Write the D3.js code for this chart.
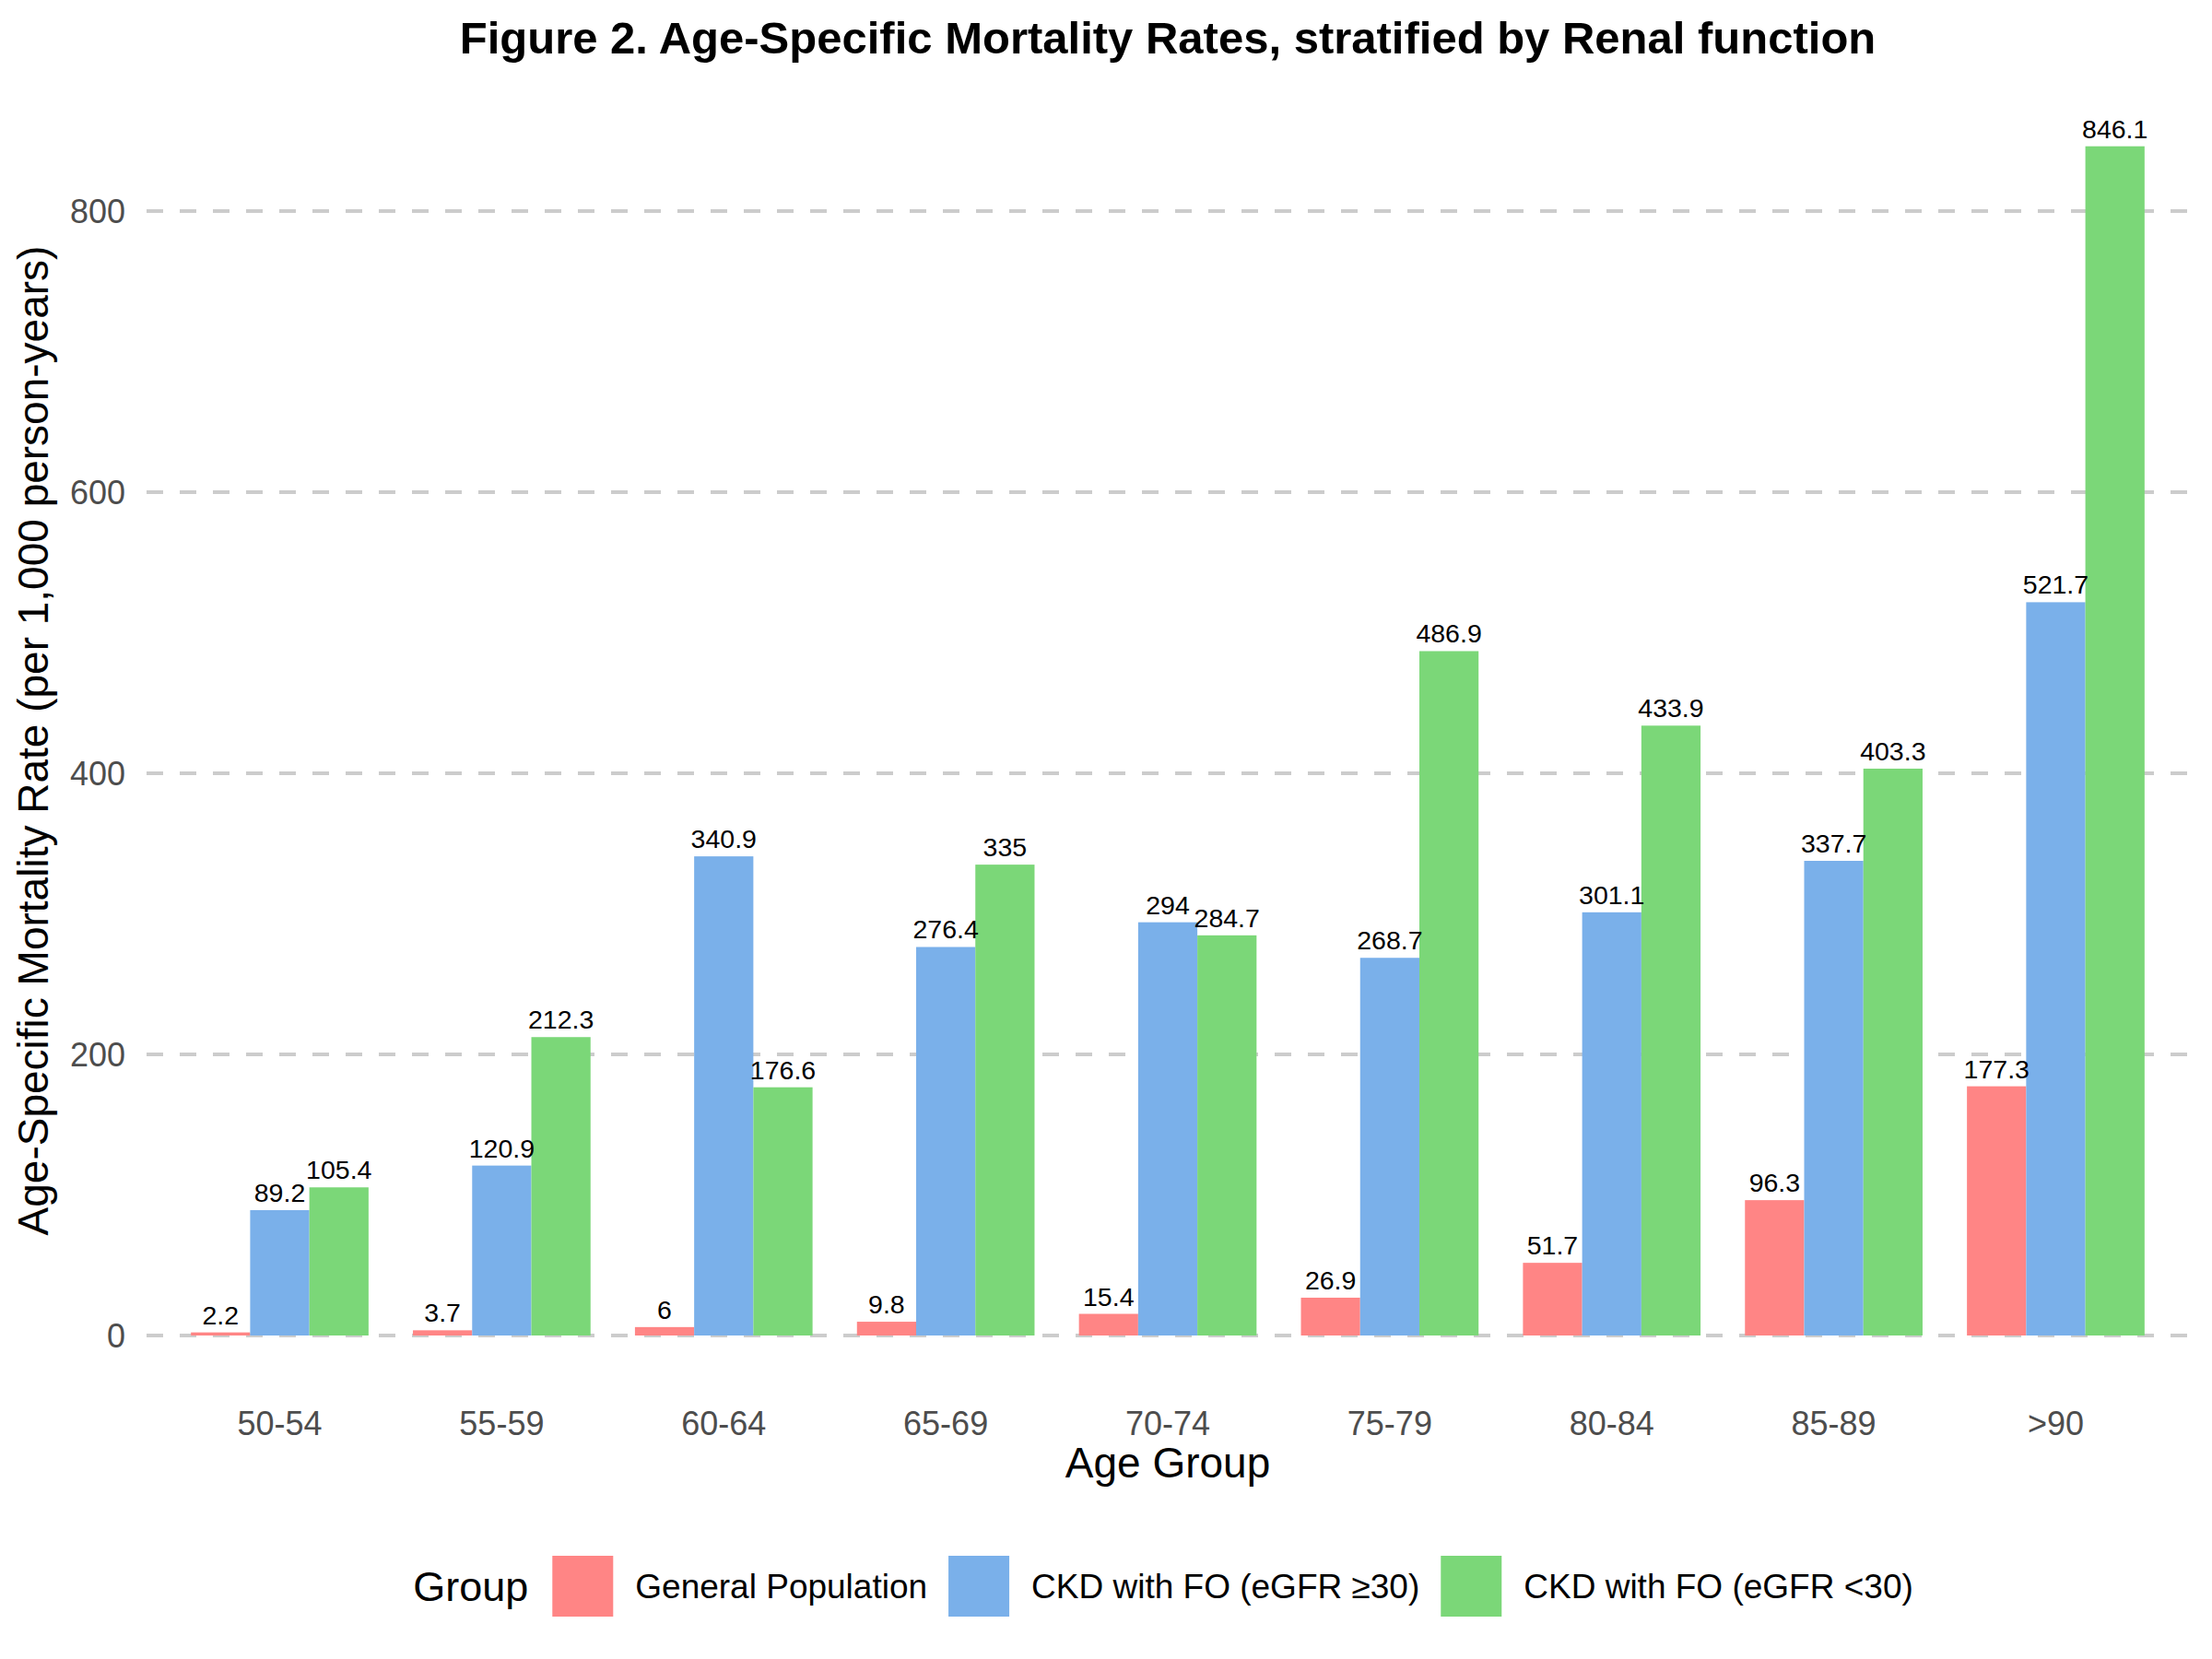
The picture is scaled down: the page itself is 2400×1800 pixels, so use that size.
<!DOCTYPE html>
<html>
<head>
<meta charset="utf-8">
<script src="https://cdn.jsdelivr.net/npm/d3@7.9.0/dist/d3.min.js"></script>
<style>
  html, body { margin: 0; padding: 0; background: #fff; }
  svg { display: block; font-family: 'Liberation Sans', Arial, Helvetica, sans-serif; }
</style>
</head>
<body>
<svg id="chart" width="2400" height="1800"></svg>
<script>
const ageGroups = ['50-54', '55-59', '60-64', '65-69', '70-74', '75-79', '80-84', '85-89', '>90'];
const groups = ['General Population', 'CKD with FO (eGFR \u226530)', 'CKD with FO (eGFR <30)'];
const generalPopulation = [2.2, 3.7, 6, 9.8, 15.4, 26.9, 51.7, 96.3, 177.3];
const ckdHighEgfr = [89.2, 120.9, 340.9, 276.4, 294, 268.7, 301.1, 337.7, 521.7];
const ckdLowEgfr = [105.4, 212.3, 176.6, 335, 284.7, 486.9, 433.9, 403.3, 846.1];
const yTicks = [0, 200, 400, 600, 800];
const groupColors = ['#FF8585', '#7AB0EA', '#7BD778'];

const seriesValues = [generalPopulation, ckdHighEgfr, ckdLowEgfr];
const rows = ageGroups.flatMap((age, i) =>
  groups.map((group, j) => ({ age, group, value: seriesValues[j][i] })),
);

const panel = { left: 159, right: 2375, top: 94, bottom: 1513 };
const svg = d3.select('#chart');

const x = d3.scaleBand()
  .domain(ageGroups)
  .range([panel.left, panel.right])
  .paddingInner(0.2)
  .paddingOuter(0.2);

const xInner = d3.scaleBand()
  .domain(groups)
  .range([0, x.bandwidth()]);

const y = d3.scaleLinear().domain([0, 800]).range([1449, 229]);

const color = d3.scaleOrdinal().domain(groups).range(groupColors);

// gridlines
svg.append('g')
  .selectAll('line')
  .data(yTicks)
  .join('line')
  .attr('x1', panel.left)
  .attr('x2', panel.right)
  .attr('y1', (d) => y(d))
  .attr('y2', (d) => y(d))
  .attr('stroke', '#CCCCCC')
  .attr('stroke-width', 4)
  .attr('stroke-dasharray', '18 18');

// bars
svg.append('g')
  .selectAll('rect')
  .data(rows)
  .join('rect')
  .attr('x', (d) => x(d.age) + xInner(d.group))
  .attr('width', xInner.bandwidth())
  .attr('y', (d) => y(d.value))
  .attr('height', (d) => y(0) - y(d.value))
  .attr('fill', (d) => color(d.group));

// value labels
svg.append('g')
  .selectAll('text')
  .data(rows)
  .join('text')
  .attr('x', (d) => x(d.age) + xInner(d.group) + xInner.bandwidth() / 2)
  .attr('y', (d) => y(d.value) - 9)
  .attr('text-anchor', 'middle')
  .attr('font-size', 28.5)
  .attr('fill', '#000')
  .text((d) => d.value);

// y axis tick labels
svg.append('g')
  .selectAll('text')
  .data(yTicks)
  .join('text')
  .attr('x', 136)
  .attr('y', (d) => y(d))
  .attr('dy', '0.35em')
  .attr('text-anchor', 'end')
  .attr('font-size', 36)
  .attr('fill', '#4D4D4D')
  .text((d) => d);

// x axis tick labels
svg.append('g')
  .selectAll('text')
  .data(ageGroups)
  .join('text')
  .attr('x', (d) => x(d) + x.bandwidth() / 2)
  .attr('y', 1557)
  .attr('text-anchor', 'middle')
  .attr('font-size', 36)
  .attr('fill', '#4D4D4D')
  .text((d) => d);

const panelCenterX = (panel.left + panel.right) / 2;
const panelCenterY = (panel.top + panel.bottom) / 2;

// axis titles
svg.append('text')
  .attr('x', panelCenterX)
  .attr('y', 1603)
  .attr('text-anchor', 'middle')
  .attr('font-size', 46)
  .attr('fill', '#000')
  .text('Age Group');

svg.append('text')
  .attr('transform', `translate(52,${panelCenterY}) rotate(-90)`)
  .attr('text-anchor', 'middle')
  .attr('font-size', 46)
  .attr('fill', '#000')
  .text('Age-Specific Mortality Rate (per 1,000 person-years)');

// title
svg.append('text')
  .attr('x', panelCenterX)
  .attr('y', 58)
  .attr('text-anchor', 'middle')
  .attr('font-size', 49)
  .attr('font-weight', 'bold')
  .attr('fill', '#000')
  .text('Figure 2. Age-Specific Mortality Rates, stratified by Renal function');

// legend
const legend = svg.append('g');
const legendY = 1721;
const keySize = 66;
const keyTextGap = 24;

const legendTitle = legend.append('text')
  .attr('y', legendY)
  .attr('dy', '0.35em')
  .attr('font-size', 45)
  .attr('fill', '#000')
  .text('Group');

const items = legend.selectAll('g.item')
  .data(groups)
  .join('g')
  .attr('class', 'item');

items.append('rect')
  .attr('width', keySize)
  .attr('height', keySize)
  .attr('y', legendY - keySize / 2)
  .attr('fill', (d) => color(d));

const labels = items.append('text')
  .attr('x', keySize + keyTextGap)
  .attr('y', legendY)
  .attr('dy', '0.35em')
  .attr('font-size', 37)
  .attr('fill', '#000')
  .text((d) => d);

const titleWidth = legendTitle.node().getComputedTextLength();
const labelWidths = labels.nodes().map((n) => n.getComputedTextLength());
const itemWidths = labelWidths.map((w) => keySize + keyTextGap + w);
const titleGap = 26;
const itemGap = 23;
const totalWidth = titleWidth + titleGap + d3.sum(itemWidths) + itemGap * (groups.length - 1);
let cursor = 1262 - totalWidth / 2;
legendTitle.attr('x', cursor);
cursor += titleWidth + titleGap;
items.each(function (d, i) {
  d3.select(this).attr('transform', `translate(${cursor},0)`);
  cursor += itemWidths[i] + itemGap;
});
</script>
</body>
</html>
